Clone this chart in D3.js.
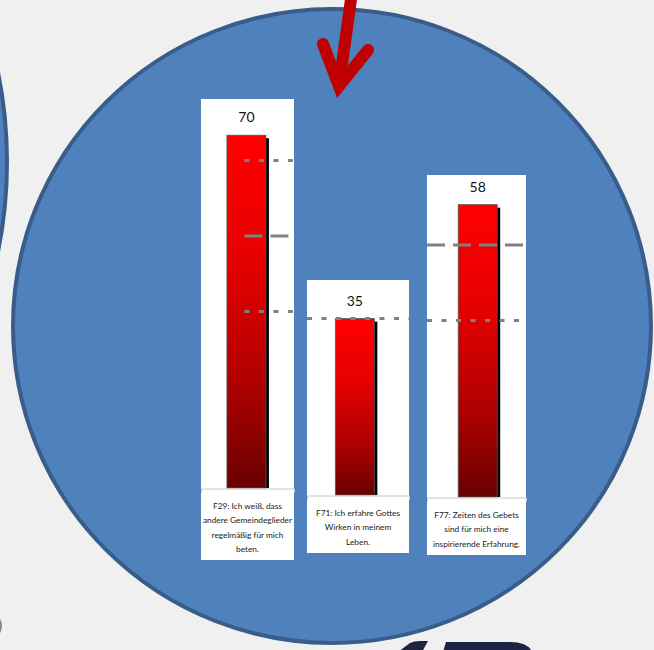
<!DOCTYPE html>
<html><head><meta charset="utf-8">
<script src="https://cdn.jsdelivr.net/npm/d3@7"></script>
<style>html,body{margin:0;padding:0;background:#f0f0f0;}svg{display:block;}</style>
</head><body>
<svg id="c" width="654" height="650"></svg>
<script>
// ---- data ----
const categories = ["F29", "F71", "F77"];
const values = [70, 35, 58];
const labelLines = [
  ["F29: Ich weiß, dass", "andere Gemeindeglieder", "regelmäßig für mich", "beten."],
  ["F71: Ich erfahre Gottes", "Wirken in meinem", "Leben."],
  ["F77: Zeiten des Gebets", "sind für mich eine", "inspirierende Erfahrung."]
];
const refValues = [35, 50, 65];
const refStyles = ["dotted", "dashed", "dotted"];

// ---- layout ----
const panels = [
  {x: 201, w: 93, top: 99,  base: 488, bottom: 560, align: 0.48, lineFromBar: true},
  {x: 307, w: 102, top: 280, base: 495, bottom: 553, align: 0.45, lineFromBar: false},
  {x: 427, w: 99, top: 175, base: 497, bottom: 555, align: 0.52, lineFromBar: false}
];
const barW = 39, pxPerUnit = 5.04;

const svg = d3.select("#c");
const defs = svg.append("defs");
const grad = defs.append("linearGradient").attr("id", "barGrad")
  .attr("x1", 0).attr("y1", 0).attr("x2", 0).attr("y2", 1);
[[0, "#ff0000"], [0.35, "#e60000"], [0.7, "#b00000"], [1, "#6a0000"]].forEach(s =>
  grad.append("stop").attr("offset", s[0]).attr("stop-color", s[1]));

// background
svg.append("rect").attr("width", 654).attr("height", 650).attr("fill", "#f0f0f0");

// left partial circle
svg.append("circle").attr("cx", 7 - 450).attr("cy", 162).attr("r", 450)
  .attr("fill", "#4f81bd").attr("stroke", "#385d8a").attr("stroke-width", 4);

// main circle
svg.append("ellipse").attr("cx", 332).attr("cy", 326).attr("rx", 319).attr("ry", 317)
  .attr("fill", "#4f81bd").attr("stroke", "#385d8a").attr("stroke-width", 4);

// bottom decorative shapes
svg.append("path").attr("d", "M398,652 L410,643 Q414,641 420,641 L428,641 L422,652 Z").attr("fill", "#1c2343");
svg.append("path").attr("d", "M443,652 L446,642 L510,642 Q528,642 532,652 Z").attr("fill", "#1c2343");
svg.append("ellipse").attr("cx", -2).attr("cy", 626).attr("rx", 4).attr("ry", 8).attr("fill", "#8a8a8a");

// red arrow
svg.append("path").attr("d", "M352,-8 L339,86").attr("fill", "none")
  .attr("stroke", "#c00000").attr("stroke-width", 12).attr("stroke-linecap", "round");
svg.append("path").attr("d", "M323,44 L339,86 L368,50").attr("fill", "none")
  .attr("stroke", "#c00000").attr("stroke-width", 12).attr("stroke-linecap", "round")
  .attr("stroke-linejoin", "miter").attr("stroke-miterlimit", 6);

panels.forEach((p, i) => {
  const g = svg.append("g");
  const cid = "clip" + i;
  defs.append("clipPath").attr("id", cid).append("rect")
    .attr("x", p.x).attr("y", p.top).attr("width", p.w).attr("height", p.base - p.top);

  g.append("rect").attr("x", p.x).attr("y", p.top).attr("width", p.w).attr("height", p.bottom - p.top)
    .attr("fill", "#ffffff");

  const y = d3.scaleLinear().domain([0, 100]).range([p.base, p.base - 100 * pxPerUnit]);
  const po = (p.w / barW - 1) / 2;
  const x = d3.scaleBand().domain([categories[i]]).range([p.x, p.x + p.w])
    .paddingInner(0).paddingOuter(po).align(p.align);

  const v = values[i];
  const bx = x(categories[i]), bw = x.bandwidth();
  // shadow
  g.append("rect").attr("x", bx + 3).attr("y", y(v) + 3).attr("width", bw)
    .attr("height", y(0) - y(v) - 3).attr("fill", "#000");
  // bar
  g.append("rect").attr("x", bx).attr("y", y(v)).attr("width", bw)
    .attr("height", y(0) - y(v)).attr("fill", "url(#barGrad)")
    .attr("stroke", "#555").attr("stroke-width", 0.8);

  // reference lines
  const x0 = p.lineFromBar ? bx + bw / 2 - 2 : p.x;
  g.append("g").attr("clip-path", `url(#${cid})`).selectAll("line").data(refValues).join("line")
    .attr("x1", x0).attr("x2", p.x + p.w)
    .attr("y1", d => y(d)).attr("y2", d => y(d))
    .attr("stroke", "#808080").attr("stroke-width", 3)
    .attr("stroke-dasharray", (d, j) => refStyles[j] === "dotted" ? "5,9.5" : "18,8");

  // axis
  const ax = g.append("g").attr("transform", `translate(0,${p.base + 0.5})`)
    .call(d3.axisBottom(x).tickSizeInner(0).tickSizeOuter(4).tickFormat(""));
  ax.select(".domain").attr("stroke", "#c8c8c8").attr("stroke-width", 1);
  ax.selectAll(".tick").remove();

  // value label
  g.append("text").attr("x", bx + bw / 2).attr("y", y(v) - 13)
    .attr("text-anchor", "middle").attr("font-family", "Lato, 'Open Sans', sans-serif")
    .attr("font-size", 14).attr("fill", "#111").text(v);

  // category label
  g.append("g").selectAll("text").data(labelLines[i]).join("text")
    .attr("x", p.x + p.w / 2).attr("y", (d, j) => p.base + 20.5 + j * 14.5)
    .attr("text-anchor", "middle").attr("font-family", "Lato, 'Open Sans', sans-serif")
    .attr("font-size", 8.3).attr("fill", "#1a1a1a").text(d => d);
});
</script>
</body></html>
